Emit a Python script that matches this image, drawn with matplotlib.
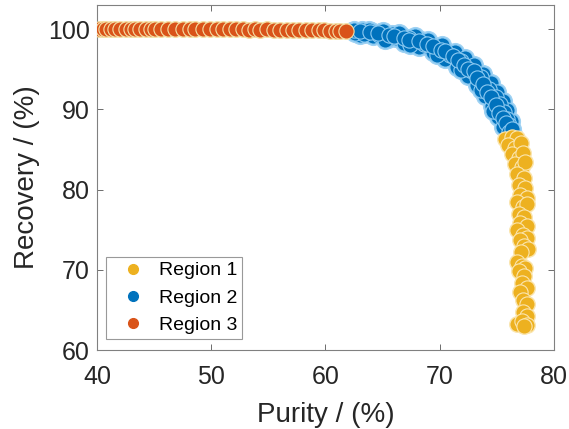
import matplotlib
matplotlib.use("Agg")
import matplotlib.pyplot as plt

plt.rcParams['font.family'] = ['Liberation Sans', 'DejaVu Sans']

# Region 1 (yellow) - steep drop near 77 % purity
purity_r1 = [75.7, 76.3, 76.8, 76.0, 76.6, 77.1, 76.3, 76.9, 77.3, 76.6, 77.2, 77.5,
             76.8, 77.4, 76.9, 77.5, 77.0, 77.6, 76.8, 77.3, 77.6, 76.9, 77.4, 77.0,
             77.6, 76.8, 77.3, 77.6, 77.0, 77.4, 77.7, 77.1, 76.8, 77.2, 77.5, 76.9,
             77.4, 77.2, 77.6, 77.0, 77.3, 77.6, 77.3, 77.6, 76.8, 77.2, 77.6, 77.4]
recovery_r1 = [86.3, 86.6, 86.4, 85.6, 85.2, 85.8, 84.4, 84.0, 84.6, 83.2, 82.8, 83.4,
               82.0, 81.5, 80.6, 80.2, 79.3, 79.0, 78.4, 77.8, 78.2, 77.0, 76.6, 75.8,
               75.5, 75.0, 74.4, 74.0, 73.7, 73.0, 72.6, 72.2, 71.0, 70.5, 70.2, 69.8,
               69.2, 68.4, 67.7, 67.2, 66.3, 65.8, 64.8, 64.2, 63.3, 63.6, 63.1, 63.0]

# Region 2 (blue) - curved trade-off front
purity_r2 = [62.3, 62.8, 63.2, 63.6, 64.0, 64.4, 64.9, 65.3, 65.8, 66.2, 66.7, 67.1,
             67.6, 68.0, 68.4, 68.8, 69.2, 69.6, 70.0, 70.3, 70.7, 71.0, 71.4, 71.7,
             72.0, 72.3, 72.6, 72.9, 73.2, 73.4, 73.7, 73.9, 74.2, 74.4, 74.7, 74.8,
             75.1, 75.1, 75.4, 75.4, 75.7, 75.7, 76.0, 75.9, 76.2, 76.4,
             63.0, 64.2, 65.5, 66.9, 68.2, 69.4, 70.5, 71.5, 72.5, 73.3, 74.0, 74.6,
             75.1, 75.5,
             63.8, 65.0, 66.4, 67.8, 69.0, 70.2, 71.3, 72.2, 73.0, 73.8, 74.5, 75.0,
             75.5, 75.9, 76.2,
             62.6, 63.4, 64.7, 65.9, 67.3, 68.6, 69.8, 70.9, 71.9, 72.8, 73.6, 74.3,
             74.9, 75.3, 75.6, 75.9, 76.1,
             65.2, 67.4, 69.8, 71.9, 73.6, 74.7,
             62.5, 63.0, 63.9, 64.6, 65.6, 66.0, 66.9, 67.3, 68.2, 68.9, 69.4, 70.1,
             70.5, 71.2, 71.6, 72.1, 72.5, 73.0, 73.3, 73.8, 74.1, 74.5, 74.9, 75.2,
             75.5, 75.8, 76.1, 76.3]
recovery_r2 = [99.8, 99.7, 99.9, 99.6, 99.75, 99.4, 99.6, 99.2, 99.35, 98.9, 99.1, 98.6,
               98.8, 98.3, 98.6, 97.9, 98.1, 97.5, 97.7, 96.9, 97.1, 96.3, 96.6, 95.6,
               95.9, 94.9, 95.2, 94.2, 94.5, 93.4, 93.7, 92.6, 92.9, 91.8, 92.1, 90.9,
               91.2, 90.0, 90.3, 89.0, 89.4, 88.1, 88.4, 87.3, 87.6, 86.9,
               99.3, 99.1, 98.8, 98.3, 97.8, 97.1, 96.3, 95.3, 94.2, 93.0, 91.7, 90.4,
               89.1, 87.8,
               99.95, 99.8, 99.5, 99.1, 98.6, 98.0, 97.2, 96.4, 95.5, 94.4, 93.3, 92.2,
               91.1, 89.9, 88.6,
               99.5, 99.45, 99.3, 99.0, 98.95, 98.2, 97.3, 96.8, 96.0, 94.8, 94.0, 92.5,
               91.6, 90.7, 89.7, 88.8, 88.0,
               98.6, 98.0, 96.8, 94.9, 92.4, 89.8,
               99.85, 99.75, 99.6, 99.5, 99.25, 99.15, 98.85, 98.6, 98.55, 98.2, 97.9, 97.4,
               97.3, 96.7, 96.2, 95.5, 95.0, 94.8, 93.9, 93.2, 92.2, 91.5, 90.6, 89.6,
               88.9, 88.3, 87.2, 87.5]

# Region 3 (orange) - full recovery at low purity
purity_r3 = [40.2, 40.5, 40.8, 41.2, 41.6, 42.0, 42.5, 43.0, 43.3, 43.8, 44.3, 44.7,
             45.1, 45.6, 46.2, 46.8, 47.5, 48.1, 48.6, 49.3, 49.9, 50.5, 51.0, 51.6,
             52.2, 52.8, 53.3, 53.8, 54.3, 54.9, 55.5, 56.0, 56.6, 57.2, 57.7, 58.3,
             58.8, 59.4, 59.9, 60.4, 60.9, 61.3, 61.8]
recovery_r3 = [100.0, 99.98, 100.02, 100.0, 99.97, 100.01, 100.0, 99.98, 100.02, 100.0, 99.99, 100.01,
               100.02, 99.98, 100.0, 99.99, 100.01, 99.98, 100.0, 99.97, 100.0, 99.99, 99.98, 100.0,
               99.97, 99.99, 99.96, 99.98, 99.95, 99.97, 99.94, 99.95, 99.93, 99.94, 99.9, 99.92,
               99.88, 99.86, 99.85, 99.83, 99.8, 99.78, 99.75]

labels = ["Region 1", "Region 2", "Region 3"]
colors = ["#EDB120", "#0072BD", "#D95319"]
edges = ["#FBE6B0", "#8CCAF2", "#F4E2A8"]
halos = ["#FBEBC0", "#9FD2F3", "#F7E9BC"]

fig = plt.figure(figsize=(5.69, 4.29), dpi=100)
ax = fig.add_axes([0.1705, 0.184, 0.803, 0.804])

series = [(purity_r1, recovery_r1), (purity_r2, recovery_r2), (purity_r3, recovery_r3)]
# blue first so the yellow points sit on top where the two meet
for i in [1, 0, 2]:
    px, py = series[i]
    # pale halo under the markers, then the filled circles
    ax.scatter(px, py, s=190 if i == 1 else 150, c=halos[i], linewidths=0, zorder=2)
    ax.scatter(px, py, s=120, c=colors[i], edgecolors=edges[i], linewidths=0.8,
               zorder=3)

ax.set_xlim(40, 80)
ax.set_ylim(60, 103)
ax.set_xticks([40, 50, 60, 70, 80])
ax.set_yticks([60, 70, 80, 90, 100])
ax.tick_params(direction='in', length=4, width=0.6, color='#555555',
               top=True, right=True, labelsize=18, labelcolor='#262626')
ax.tick_params(axis='x', pad=11)
ax.tick_params(axis='y', pad=5)
for sp in ax.spines.values():
    sp.set_color('#808080')
    sp.set_linewidth(0.8)

ax.set_xlabel("Purity / (%)", fontsize=20, color='#262626', labelpad=9)
ax.set_ylabel("Recovery / (%)", fontsize=20, color='#262626', labelpad=6)

handles = [plt.Line2D([], [], marker='o', ls='', ms=7, color=c) for c in colors]
leg = ax.legend(handles, labels, loc='lower left', bbox_to_anchor=(0.0197, 0.032),
                borderaxespad=0, fontsize=14, frameon=True, fancybox=False,
                borderpad=0.25, handletextpad=0.15, labelspacing=0.5,
                handlelength=2.3)
leg.get_frame().set_edgecolor('#808080')
leg.get_frame().set_linewidth(0.8)

fig.savefig("out.png", dpi=100)
